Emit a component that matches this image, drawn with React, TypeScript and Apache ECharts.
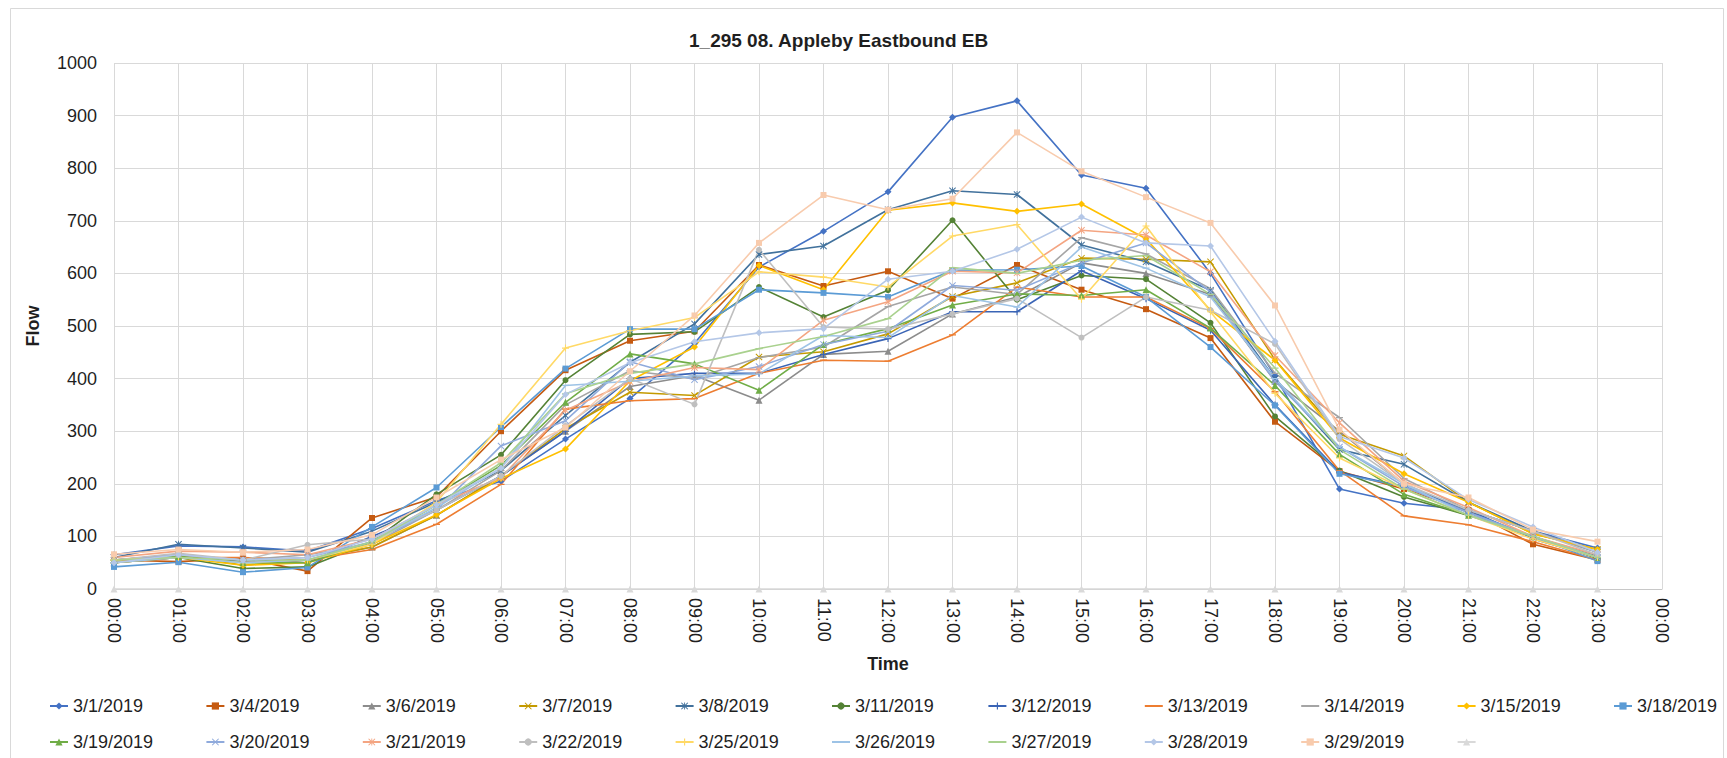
import React, { useEffect, useRef } from "react";
import * as echarts from "echarts";

const TITLE = "1_295 08. Appleby Eastbound EB";
const X_NAME = "Time";
const Y_NAME = "Flow";

const HOURS = [0, 1, 2, 3, 4, 5, 6, 7, 8, 9, 10, 11, 12, 13, 14, 15, 16, 17, 18, 19, 20, 21, 22, 23];

const d0301 = [65, 82, 80, 72, 115, 168, 205, 285, 362, 467, 612, 680, 755, 897, 928, 787, 762, 600, 405, 190, 163, 150, 110, 78];
const d0304 = [55, 52, 58, 34, 135, 175, 300, 416, 472, 490, 616, 576, 604, 552, 616, 569, 532, 477, 318, 224, 190, 150, 85, 55];
const d0306 = [50, 65, 52, 55, 80, 140, 215, 300, 385, 406, 359, 446, 452, 523, 555, 620, 600, 560, 395, 300, 200, 145, 100, 62];
const d0307 = [55, 65, 45, 55, 80, 140, 215, 305, 374, 368, 441, 451, 485, 556, 582, 629, 627, 622, 436, 294, 253, 165, 105, 75];
const d0308 = [60, 85, 78, 70, 110, 165, 225, 330, 431, 504, 636, 652, 721, 757, 750, 654, 622, 568, 400, 265, 237, 165, 110, 70];
const d0311 = [50, 60, 39, 42, 90, 180, 255, 397, 484, 489, 574, 517, 568, 701, 550, 596, 589, 506, 328, 225, 175, 140, 100, 58];
const d0312 = [50, 60, 55, 50, 100, 150, 215, 300, 400, 410, 410, 446, 476, 527, 527, 605, 552, 492, 350, 222, 195, 150, 95, 60];
const d0313 = [55, 60, 60, 55, 75, 123, 199, 342, 358, 362, 410, 435, 433, 483, 574, 555, 555, 495, 375, 225, 139, 122, 90, 55];
const d0314 = [55, 65, 55, 65, 85, 150, 225, 350, 415, 400, 440, 460, 537, 574, 560, 668, 637, 571, 410, 326, 210, 150, 110, 70];
const d0315 = [50, 60, 45, 50, 85, 141, 210, 266, 396, 460, 615, 569, 720, 734, 718, 732, 666, 530, 435, 287, 219, 165, 105, 75];
const d0318 = [42, 51, 32, 41, 118, 193, 308, 419, 494, 494, 569, 563, 555, 606, 607, 614, 555, 460, 349, 219, 195, 146, 100, 53];
const d0319 = [55, 62, 50, 50, 90, 160, 235, 355, 447, 428, 378, 465, 495, 540, 561, 558, 569, 496, 387, 256, 180, 140, 100, 60];
const d0320 = [55, 65, 55, 60, 90, 150, 272, 320, 432, 398, 423, 465, 490, 577, 568, 620, 658, 565, 395, 270, 195, 145, 100, 60];
const d0321 = [60, 72, 70, 65, 95, 160, 212, 340, 394, 421, 417, 511, 546, 604, 601, 682, 673, 603, 444, 316, 205, 155, 100, 65];
const d0322 = [55, 68, 55, 84, 95, 150, 215, 310, 400, 351, 645, 498, 494, 523, 552, 478, 555, 530, 466, 285, 200, 150, 110, 65];
const d0325 = [55, 60, 50, 55, 85, 165, 313, 458, 491, 516, 603, 593, 574, 671, 693, 551, 690, 527, 372, 249, 190, 140, 95, 60];
const d0326 = [50, 60, 50, 55, 90, 155, 230, 387, 395, 405, 409, 482, 478, 558, 536, 650, 610, 555, 400, 270, 200, 140, 100, 60];
const d0327 = [55, 60, 55, 55, 90, 160, 240, 371, 410, 428, 457, 480, 514, 611, 600, 625, 634, 560, 420, 265, 190, 140, 100, 60];
const d0328 = [50, 65, 55, 60, 95, 160, 230, 370, 430, 470, 487, 495, 589, 604, 646, 707, 658, 652, 471, 290, 249, 170, 118, 70];
const d0329 = [66, 75, 70, 75, 103, 174, 246, 307, 414, 520, 658, 749, 721, 742, 868, 794, 745, 696, 539, 303, 200, 174, 113, 90];
const dBlank = [0, 0, 0, 0, 0, 0, 0, 0, 0, 0, 0, 0, 0, 0, 0, 0, 0, 0, 0, 0, 0, 0, 0, 0];

const SERIES_NAMES = [
  "3/1/2019", "3/4/2019", "3/6/2019", "3/7/2019", "3/8/2019", "3/11/2019", "3/12/2019",
  "3/13/2019", "3/14/2019", "3/15/2019", "3/18/2019", "3/19/2019", "3/20/2019", "3/21/2019",
  "3/22/2019", "3/25/2019", "3/26/2019", "3/27/2019", "3/28/2019", "3/29/2019", " ",
];
const SERIES_VALUES = [
  d0301, d0304, d0306, d0307, d0308, d0311, d0312, d0313, d0314, d0315, d0318,
  d0319, d0320, d0321, d0322, d0325, d0326, d0327, d0328, d0329, dBlank,
];

const COLORS = [
  "#4472C4", "#C55A11", "#8C8C8C", "#C49A00", "#41719C", "#548235", "#3A64B5",
  "#ED7D31", "#A5A5A5", "#FFC000", "#5B9BD5", "#70AD47", "#8FAADC", "#F4A582",
  "#BFBFBF", "#FFD966", "#9DC3E6", "#A9D18E", "#B4C7E7", "#F8CBAD", "#D9D9D9",
];

const SYM_X = "path://M1,0L5,4L9,0L10,1L6,5L10,9L9,10L5,6L1,10L0,9L4,5L0,1Z";
const SYM_STAR = "path://M1,0L5,4L9,0L10,1L6,5L10,9L9,10L5,6L1,10L0,9L4,5L0,1Z M4.4,0L5.6,0L5.6,10L4.4,10Z";
const SYM_PLUS = "path://M4.2,0L5.8,0L5.8,4.2L10,4.2L10,5.8L5.8,5.8L5.8,10L4.2,10L4.2,5.8L0,5.8L0,4.2L4.2,4.2Z";
const SYM_DASH = "path://M0,0L0.01,0L0,0.01Z M10,10L9.99,10L10,9.99Z M0,4.1L10,4.1L10,5.9L0,5.9Z";

const MARKER_CYCLE = ["diamond", "rect", "triangle", SYM_X, SYM_STAR, "circle", SYM_PLUS, SYM_DASH, SYM_DASH];
const MARKER_SIZE: Record<string, number> = { diamond: 7, rect: 6, triangle: 7, circle: 6 };

export default function App() {
  const ref = useRef<HTMLDivElement>(null);

  useEffect(() => {
    document.body.style.margin = "0";
    const chart = echarts.init(ref.current!, null, { renderer: "svg" });
    const FONT = "'Liberation Sans', Arial, sans-serif";
    const TXT = "#1f1f1f";

    const series = SERIES_NAMES.map((name, i) => {
      const sym = MARKER_CYCLE[i % MARKER_CYCLE.length];
      const size = MARKER_SIZE[sym] ?? 7;
      return {
        name,
        type: "line",
        data: HOURS.map((h, j) => [h, SERIES_VALUES[i][j]]),
        symbol: sym,
        symbolSize: size,
        showSymbol: true,
        clip: false,
        itemStyle: { color: COLORS[i] },
        lineStyle: { color: COLORS[i], width: 1.6 },
        emphasis: { disabled: true },
      };
    });

    const legends = SERIES_NAMES.map((name, i) => ({
      data: [name],
      left: 49 + (i % 11) * 156.4,
      top: i < 11 ? 697 : 733,
      padding: 0,
      itemWidth: 18,
      itemHeight: 9,
      itemGap: 0,
      textStyle: { fontSize: 18, color: TXT, fontFamily: FONT },
    }));

    chart.setOption({
      animation: false,
      backgroundColor: "#ffffff",
      title: {
        text: TITLE,
        left: 684,
        top: 26,
        textStyle: { fontSize: 19, fontWeight: "bold", color: TXT, fontFamily: FONT },
      },
      legend: legends,
      graphic: [
        {
          type: "rect",
          left: 8,
          top: 6,
          silent: true,
          z: -10,
          shape: { width: 1713, height: 800 },
          style: { fill: "none", stroke: "#D9D9D9", lineWidth: 1 },
        },
      ],
      grid: { left: 114, right: 65, top: 63, bottom: 169, containLabel: false },
      xAxis: {
        type: "value",
        min: 0,
        max: 24,
        interval: 1,
        name: X_NAME,
        nameLocation: "middle",
        nameGap: 66,
        nameTextStyle: { fontSize: 18, fontWeight: "bold", color: TXT, fontFamily: FONT },
        axisLine: { show: true, lineStyle: { color: "#C8C8C8", width: 1 } },
        axisTick: { show: false },
        splitLine: { show: true, lineStyle: { color: "#D9D9D9", width: 1 } },
        axisLabel: {
          rotate: -90,
          margin: 9,
          fontSize: 18,
          color: TXT,
          fontFamily: FONT,
          formatter: (v: number) => String(Math.round(v) % 24).padStart(2, "0") + ":00",
        },
      },
      yAxis: {
        type: "value",
        min: 0,
        max: 1000,
        interval: 100,
        name: Y_NAME,
        nameLocation: "middle",
        nameGap: 72,
        nameTextStyle: { fontSize: 18, fontWeight: "bold", color: TXT, fontFamily: FONT },
        axisLine: { show: false },
        axisTick: { show: false },
        splitLine: { show: true, lineStyle: { color: "#D9D9D9", width: 1 } },
        axisLabel: {
          margin: 17,
          fontSize: 18,
          color: TXT,
          fontFamily: FONT,
          formatter: (v: number) => String(Math.round(v)),
        },
      },
      series,
    });

    return () => chart.dispose();
  }, []);

  return <div ref={ref} style={{ width: 1727, height: 758 }} />;
}
